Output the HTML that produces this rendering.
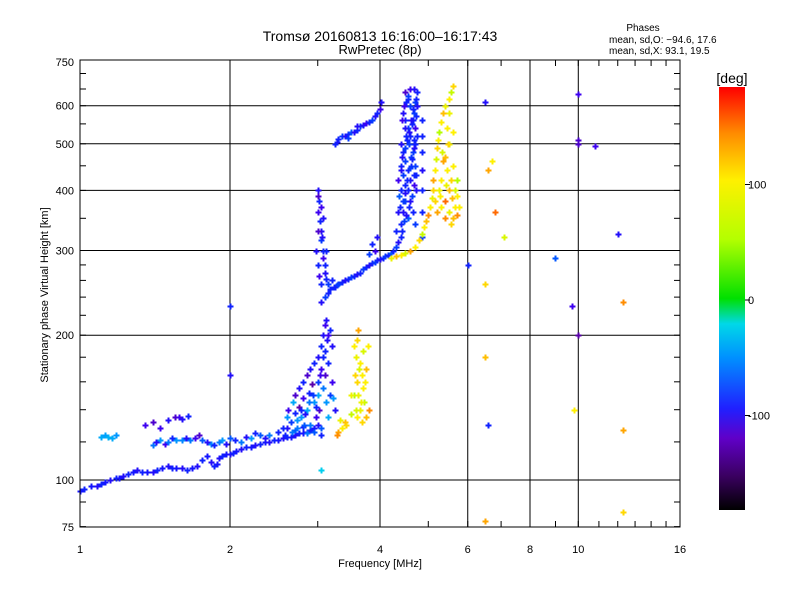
<!DOCTYPE html>
<html><head><meta charset="utf-8"><style>
body{margin:0;background:#fff;}
svg{display:block;font-family:"Liberation Sans",sans-serif;}
</style></head><body>
<svg id="chart" width="800" height="600" viewBox="0 0 800 600">
<defs><linearGradient id="cbg" x1="0" y1="1" x2="0" y2="0">
<stop offset="0" stop-color="#000"/><stop offset="0.08" stop-color="#3a0060"/><stop offset="0.17" stop-color="#6000c8"/><stop offset="0.24" stop-color="#2020ff"/><stop offset="0.36" stop-color="#0090ff"/><stop offset="0.44" stop-color="#00d8e8"/><stop offset="0.5" stop-color="#00e000"/><stop offset="0.64" stop-color="#b4ff00"/><stop offset="0.78" stop-color="#fff000"/><stop offset="0.89" stop-color="#ff8c00"/><stop offset="1" stop-color="#ff0000"/>
</linearGradient></defs>
<text x="380" y="41" text-anchor="middle" font-size="14">Tromsø 20160813 16:16:00–16:17:43</text>
<text x="380" y="54" text-anchor="middle" font-size="13">RwPretec (8p)</text>
<text x="643" y="31" text-anchor="middle" font-size="10">Phases</text>
<text x="609" y="43" font-size="10">mean, sd,O: −94.6, 17.6</text>
<text x="609" y="54" font-size="10">mean, sd,X:  93.1, 19.5</text>
<g id="grid"></g>
<g id="marks"></g>
<rect x="80" y="60" width="600" height="467" fill="none" stroke="#000" stroke-width="1"/>
<g id="ticks"></g>
<text x="380" y="567" text-anchor="middle" font-size="11">Frequency [MHz]</text>
<text transform="translate(48,295) rotate(-90)" text-anchor="middle" font-size="11">Stationary phase Virtual Height [km]</text>
<rect x="719" y="87" width="26" height="423" fill="url(#cbg)"/>
<text x="732" y="83" text-anchor="middle" font-size="14">[deg]</text>
<g id="cbticks"></g>
</svg>
<script>
const xTicks=[1,2,4,6,8,10,16];
const xGrid=[2,4,6,8,10];
const yTicks=[75,100,200,300,400,500,600,750];
const yGrid=[100,200,300,400,500,600];
const cbTicks=[100,0,-100];

const lowFreq=[1.0,1.02,1.05,1.08,1.1,1.12,1.15,1.18,1.2,1.22,1.25,1.28,1.3,1.33,1.36,1.4,1.43,1.46,1.5,1.53,1.56,1.6,1.64,1.68,1.72,1.76,1.8,1.83,1.86,1.88,1.9,1.93,1.96,2.0,2.03,2.06,2.1,2.15,2.2,2.25,2.3,2.35,2.4,2.45,2.5,2.55,2.6,2.65,2.7,2.75,2.8,2.85,2.9,2.95,3.0];
const lowHeight=[95,96,97,97,98,99,100,101,101,102,103,104,105,104,104,104,105,106,107,106,106,106,105,106,107,110,112,109,107,108,111,112,113,113,114,115,116,117,117,118,119,120,120,121,121,122,123,123,124,125,125,126,127,128,130];
const lowPhase=[-115,-110,-115,-120,-110,-115,-120,-110,-115,-120,-110,-115,-120,-110,-115,-120,-110,-115,-120,-110,-115,-120,-110,-115,-120,-110,-115,-120,-110,-115,-120,-110,-115,-120,-110,-115,-120,-110,-115,-120,-110,-115,-120,-110,-115,-120,-110,-115,-120,-110,-115,-120,-110,-115,-120];

const bandFreq=[1.1,1.12,1.14,1.16,1.18,1.4,1.42,1.45,1.48,1.5,1.53,1.56,1.6,1.63,1.66,1.7,1.73,1.76,1.8,1.83,1.86,1.9,1.93,1.96,2.0,2.05,2.1,2.15,2.2,2.25,2.3,2.35,2.4,2.5,2.6,2.7,2.8,1.35,1.4,1.45,1.5,1.55,1.58,1.6,1.65];
const bandHeight=[123,124,123,122,124,118,120,121,119,120,122,121,121,122,121,122,124,121,120,119,118,120,121,119,122,121,120,123,122,125,124,122,124,126,128,127,129,130,132,128,133,135,135,134,136];
const bandPhase=[-60,-65,-55,-60,-70,-80,-120,-70,-130,-80,-110,-70,-75,-120,-80,-130,-140,-90,-120,-75,-110,-80,-70,-120,-90,-110,-80,-120,-70,-110,-90,-120,-80,-110,-120,-90,-110,-130,-140,-130,-120,-140,-130,-120,-110];

const clusterFreq=[2.55,2.6,2.62,2.65,2.68,2.7,2.7,2.72,2.75,2.75,2.78,2.8,2.8,2.82,2.85,2.85,2.88,2.9,2.9,2.92,2.95,2.95,2.97,3.0,3.0,3.0,3.02,3.05,3.05,3.05,3.07,3.08,3.1,3.1,3.1,3.12,3.12,3.15,3.15,3.15,3.18,3.2,2.85,2.95,3.05,3.2,3.22,3.25,2.66,2.58,2.72,2.78,2.83,2.88,2.93,2.98,3.03,3.08,3.13,3.17];
const clusterHeight=[128,135,140,132,145,150,138,128,155,142,135,160,148,130,165,140,152,170,130,158,175,145,135,180,160,150,140,190,170,128,200,155,210,185,165,145,215,175,200,135,150,190,125,126,124,160,148,140,126,124,133,140,137,145,150,142,165,180,195,205];
const clusterPhase=[-110,-70,-130,-100,-60,-140,-110,-80,-120,-150,-70,-110,-130,-90,-140,-60,-110,-120,-80,-150,-110,-70,-130,-120,-100,-60,-140,-110,-130,-90,-120,-80,-130,-110,-140,-70,-120,-110,-130,-60,-100,-120,-80,-90,-110,-130,-70,-120,-80,-110,-70,-110,-120,-80,-100,-110,-130,-110,-120,-110];

const yellowFreq=[3.55,3.6,3.62,3.58,3.65,3.7,3.68,3.6,3.55,3.62,3.7,3.75,3.72,3.65,3.58,3.6,3.68,3.75,3.8,3.78,3.5,3.5,3.3,3.28,3.35,3.4,3.42,3.32,3.63,3.73,3.57,3.67];
const yellowHeight=[190,195,205,180,175,185,165,160,150,150,155,170,145,140,140,135,132,135,140,190,150,137,126,124,128,132,130,133,170,160,165,145];
const yellowPhase=[100,110,130,90,100,80,100,110,60,90,100,120,70,90,80,100,110,120,140,100,90,70,130,140,100,120,110,90,80,100,110,90];

const fFreq=[3.0,3.02,3.0,3.03,3.05,3.05,3.07,3.08,3.1,3.1,3.12,3.15,3.18,3.0,2.98,3.0,3.02,3.05,3.1,3.05,3.15,3.25,3.3,3.35,3.4,3.45,3.5,3.55,3.6,3.65,3.7,3.75,3.8,3.85,3.9,3.95,4.0,4.05,4.1,4.15,4.2,4.25,4.3,4.35,4.4,3.9,3.85,3.95,3.8,4.4,4.45,4.5,4.55,4.6,4.62,4.65,4.67,4.7,4.72,4.75,4.75,4.5,4.55,4.6,4.45,4.5,4.55,4.6,4.4,4.45,4.5,4.55,4.35,4.4,4.45,4.5,4.6,4.65,4.7,4.35,4.4,4.62,4.68,4.72,4.7,4.58,4.52,4.48,4.42,4.65,4.7,4.6,4.3,4.55,4.68,4.85,4.85,4.85,4.85,4.85,4.85,4.85];
const fHeight=[400,380,360,345,330,315,300,290,280,270,262,255,250,330,300,280,265,255,240,235,245,252,256,258,260,262,264,266,268,270,274,277,280,282,284,286,288,290,292,294,296,300,305,312,320,300,310,320,295,340,360,380,400,420,450,480,510,540,570,600,640,640,620,600,580,560,540,520,500,480,460,440,420,400,430,410,380,360,340,360,450,470,430,400,500,500,520,540,560,560,610,650,330,350,650,560,520,480,440,400,360,320];
const fPhase=[-120,-110,-130,-110,-120,-100,-110,-130,-110,-120,-110,-100,-110,-140,-120,-110,-130,-110,-100,-120,-110,-110,-100,-110,-120,-110,-100,-110,-120,-110,-100,-110,-120,-110,-100,-110,-120,-110,-100,-110,-90,-110,-100,-120,-110,-130,-110,-120,-100,-110,-120,-100,-110,-120,-110,-100,-110,-130,-110,-120,-110,-140,-110,-100,-120,-110,-100,-110,-120,-110,-100,-110,-130,-110,-100,-110,-120,-110,-100,-120,-110,-100,-110,-120,-110,-100,-110,-120,-130,-110,-100,-130,-110,-90,-120,-110,-110,-110,-120,-110,-110,-100];

const cloudFreq=[4.42,4.47,4.52,4.57,4.63,4.68,4.73,4.43,4.48,4.53,4.58,4.63,4.68,4.73,4.44,4.49,4.54,4.59,4.64,4.69,4.74,4.46,4.51,4.56,4.61,4.66,4.71,4.38,4.36,4.41,3.04,3.08,3.12,3.01,3.06,3.2,3.28,3.24];
const cloudHeight=[330,345,355,370,390,410,430,470,490,510,530,550,580,620,380,395,420,445,465,490,520,600,610,630,560,590,450,370,390,440,370,350,300,390,320,260,254,252];
const cloudPhase=[-110,-100,-120,-110,-100,-130,-110,-120,-100,-110,-120,-110,-100,-110,-100,-120,-110,-100,-110,-120,-110,-130,-110,-100,-120,-110,-100,-110,-90,-120,-130,-120,-110,-140,-120,-110,-100,-110];

const upperFreq=[3.28,3.3,3.35,3.4,3.45,3.5,3.55,3.6,3.65,3.7,3.75,3.8,3.85,3.9,3.95,4.0,4.02,3.25,3.45,3.6];
const upperHeight=[505,512,518,520,525,528,530,535,545,548,552,556,560,570,580,590,610,500,515,545];
const upperPhase=[-120,-110,-100,-120,-110,-90,-120,-110,-100,-120,-130,-110,-100,-120,-110,-130,-120,-110,-100,-120];

const xFreq=[4.2,4.3,4.4,4.5,4.6,4.7,4.8,4.85,4.9,4.95,5.0,5.05,5.08,5.1,5.12,5.15,5.18,5.2,5.22,5.25,5.3,5.35,5.4,5.5,5.55,5.6,5.2,5.3,5.4,5.5,5.6,5.7,5.75,5.65,5.55,5.45,5.35,5.6,5.7,5.5,5.3,5.25,5.4,5.55,5.65,5.5,5.45,5.4,5.6,5.5,5.15,5.28,5.42,5.58,5.72,5.33,5.48];
const xHeight=[290,292,294,296,300,305,315,325,335,345,355,370,385,400,420,440,465,490,510,530,555,580,600,620,640,660,360,370,380,360,350,355,370,400,420,440,460,450,420,400,420,400,350,340,370,500,540,470,530,580,380,390,410,385,390,480,500];
const xPhase=[90,120,100,80,130,100,110,70,100,120,140,100,90,110,130,100,80,110,100,60,100,120,90,100,70,110,130,100,150,90,120,140,100,80,110,100,130,100,60,120,100,90,140,110,100,80,100,120,100,90,110,100,90,120,100,80,110];

const sparseFreq=[6.5,6.6,6.7,6.8,7.1,6.0,6.5,6.5,6.6,6.5,9.0,10,10,10,10.8,9.7,10,9.8,12,12.3,12.3,12.3,2.0,2.0,3.05];
const sparseHeight=[610,440,460,360,320,280,255,180,130,82,290,635,510,500,495,230,200,140,325,235,127,86,230,165,105];
const sparsePhase=[-120,130,100,150,80,-110,110,120,-110,130,-90,-130,-140,-140,-130,-130,-150,100,-120,140,130,110,-110,-120,-40];

const X0=80,Y100=480,YDEC=481;
function xScale(f){return X0+150*Math.log2(f);}
function yScale(h){return Y100-YDEC*Math.log10(h/100);}
function cbScale(p){return 300-p*1.155;}
const stops=[[-180,0,0,0],[-150,90,0,170],[-130,60,0,240],[-115,20,20,255],[-95,0,70,255],[-70,0,150,255],[-35,0,215,235],[0,0,225,0],[55,170,255,0],[100,255,240,0],[140,255,140,0],[180,255,0,0]];
function phaseColor(p){
  for(let i=0;i<stops.length-1;i++){const a=stops[i],b=stops[i+1];
    if(p<=b[0]){const t=Math.max(0,(p-a[0])/(b[0]-a[0]));
      return 'rgb('+[1,2,3].map(k=>Math.round(a[k]+t*(b[k]-a[k]))).join(',')+')';}}
  return 'rgb(255,0,0)';
}
const NS='http://www.w3.org/2000/svg';
function mk(tag,attrs,parent){const e=document.createElementNS(NS,tag);for(const k in attrs)e.setAttribute(k,attrs[k]);parent.appendChild(e);return e;}
const grid=document.getElementById('grid'),ticks=document.getElementById('ticks'),marks=document.getElementById('marks'),cbt=document.getElementById('cbticks');
xGrid.forEach(v=>{const l=mk('line',{x1:xScale(v),x2:xScale(v),y1:60,y2:527,stroke:'#000','stroke-width':1},grid);

});
yGrid.forEach(v=>{const l=mk('line',{x1:80,x2:680,y1:yScale(v),y2:yScale(v),stroke:'#000','stroke-width':1},grid);

});
xTicks.forEach(v=>{const t=mk('text',{x:xScale(v),y:553,'text-anchor':'middle','font-size':11},ticks);t.textContent=v;

});
for(let f=1;f<=16;f++){const x=xScale(f);mk('line',{x1:x,x2:x,y1:527,y2:521,stroke:'#000'},ticks);mk('line',{x1:x,x2:x,y1:60,y2:66,stroke:'#000'},ticks);}
const yT=yTicks.map(v=>v===75?527:(v===750?62:yScale(v)));
yTicks.forEach((v,i)=>{const t=mk('text',{x:74,y:yT[i]+4,'text-anchor':'end','font-size':11},ticks);t.textContent=v;

});
for(let h=80;h<=740;h+=(h<100?10:(h<300?20:50))){const y=yScale(h);if(y<60)continue;mk('line',{x1:80,x2:86,y1:y,y2:y,stroke:'#000'},ticks);mk('line',{x1:680,x2:674,y1:y,y2:y,stroke:'#000'},ticks);}
cbTicks.forEach(v=>{const y=cbScale(v);mk('line',{x1:745,x2:750,y1:y,y2:y,stroke:'#000'},cbt);
const t=mk('text',{x:748,y:y+4,'font-size':11},cbt);t.textContent=v;

});
function plot(F,H,P,name){
  for(let i=0;i<F.length;i++){
    const x=Math.round(xScale(F[i])),y=Math.round(yScale(H[i])),c=phaseColor(P[i]);
    const g=mk('path',{d:'M'+(x-2.5)+' '+(y+0.5)+'h6M'+(x+0.5)+' '+(y-2.5)+'v6',stroke:c,'stroke-width':2},marks);
    
    
  }
}
plot(lowFreq,lowHeight,lowPhase,'low-trace-point');
plot(bandFreq,bandHeight,bandPhase,'e-band-point');
plot(clusterFreq,clusterHeight,clusterPhase,'cluster-point');
plot(yellowFreq,yellowHeight,yellowPhase,'x-low-point');
plot(fFreq,fHeight,fPhase,'f-o-trace-point');
plot(cloudFreq,cloudHeight,cloudPhase,'f-o-cloud-point');
plot(upperFreq,upperHeight,upperPhase,'upper-trace-point');
plot(xFreq,xHeight,xPhase,'f-x-trace-point');
plot(sparseFreq,sparseHeight,sparsePhase,'sparse-point');
</script>
</body></html>
